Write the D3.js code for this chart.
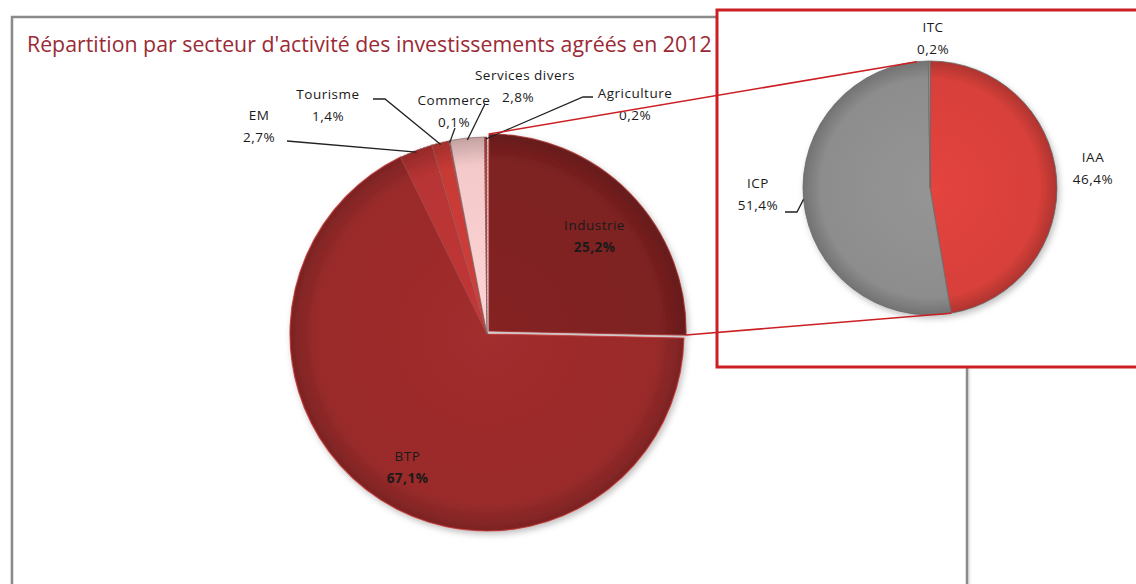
<!DOCTYPE html>
<html>
<head>
<meta charset="utf-8">
<script src="https://cdn.jsdelivr.net/npm/d3@7"></script>
<style>
  body { margin: 0; background: #fff; }
  text { font-family: "Open Sans", sans-serif; }
</style>
</head>
<body>
<div id="chart"></div>
<script>
var svgWidth = 1136;
var svgHeight = 584;

// main pie data (percent)
var sectors = ["Industrie", "BTP", "EM", "Tourisme", "Commerce", "Services divers", "Agriculture"];
var sectorValues = [25.2, 67.1, 2.7, 1.4, 0.1, 2.8, 0.2];
var sectorLabels = ["25,2%", "67,1%", "2,7%", "1,4%", "0,1%", "2,8%", "0,2%"];
var sectorColors = ["#7e2121", "#9a2b2b", "#b83434", "#c73a36", "#c94040", "#f3c9c9", "#c23a34"];

// secondary pie: breakdown of Industrie
var subSectors = ["IAA", "ICP", "ITC"];
var subValues = [46.4, 51.4, 0.2];
var subLabels = ["46,4%", "51,4%", "0,2%"];
var subColors = ["#d8403a", "#8d8d8d", "#a9a9a9"];

var title = "Répartition par secteur d'activité des investissements agréés en 2012";

// layout
var mainC = { x: 487, y: 334 }, mainR = 197;
var subC = { x: 930, y: 188 }, subR = 127;
var explode = { x: 2, y: -3 };
var labelFont = 13.5, labelSpacing = 0.5;

// manual label placement (Excel-style dragged labels), center x and first baseline
var outLabelPos = {
  "EM":             { x: 259, y: 120, line: [[287, 141]] },
  "Tourisme":       { x: 328, y: 99,  line: [[373, 99], [385, 99]] },
  "Commerce":       { x: 454, y: 105, line: [[455, 128]] },
  "Services divers":{ x: 525, y: 80,  line: [[485, 104]] },
  "Agriculture":    { x: 635, y: 98,  line: [[593, 97], [583, 97]] }
};
var subLabelPos = {
  "ITC": { x: 933, y: 32 },
  "IAA": { x: 1093, y: 162 },
  "ICP": { x: 758, y: 188, line: [[785, 212], [797, 212]] }
};

var svg = d3.select("#chart")
  .append("svg")
  .attr("width", svgWidth)
  .attr("height", svgHeight);

var defs = svg.append("defs");

var shadow = defs.append("filter").attr("id", "shadow")
  .attr("x", "-20%").attr("y", "-20%").attr("width", "140%").attr("height", "140%");
shadow.append("feDropShadow")
  .attr("dx", 2).attr("dy", 3).attr("stdDeviation", 3)
  .attr("flood-color", "#000").attr("flood-opacity", 0.25);

var frameShadow = defs.append("filter").attr("id", "fshadow");
frameShadow.append("feDropShadow")
  .attr("dx", 1).attr("dy", 2).attr("stdDeviation", 1.5)
  .attr("flood-color", "#000").attr("flood-opacity", 0.2);

function addGradient(id, color, r) {
  var g = defs.append("radialGradient").attr("id", id)
    .attr("gradientUnits", "userSpaceOnUse")
    .attr("cx", 0).attr("cy", 0).attr("r", r);
  var base = d3.color(color);
  g.append("stop").attr("offset", "0%").attr("stop-color", base.brighter(0.15));
  g.append("stop").attr("offset", "86%").attr("stop-color", base);
  g.append("stop").attr("offset", "100%").attr("stop-color", base.darker(0.6));
}

// chart frame
svg.append("rect")
  .attr("x", 12).attr("y", 17)
  .attr("width", 955).attr("height", 620)
  .attr("fill", "#fff")
  .attr("stroke", "#8a8a8a")
  .attr("stroke-width", 2.5)
  .attr("filter", "url(#fshadow)");

// title
var titleText = svg.append("text")
  .attr("x", 27).attr("y", 52)
  .attr("fill", "#9b2a35")
  .attr("font-size", 20)
  .text(title);
var tw = titleText.node().getComputedTextLength();
titleText.attr("font-size", 20 * 685 / tw);

function twoLineLabel(x, y, name, value, bold, dx2) {
  var t = svg.append("text")
    .attr("text-anchor", "middle")
    .attr("font-size", labelFont)
    .attr("letter-spacing", labelSpacing)
    .attr("fill", "#1a1a1a");
  t.append("tspan").attr("x", x).attr("y", y).text(name);
  t.append("tspan").attr("x", x + (dx2 || 0)).attr("y", y + 22)
    .attr("font-weight", bold ? "bold" : null).text(value);
}

// main pie
var pie = d3.pie().sort(null).value(d => d.value);
var mainData = pie(sectors.map((s, i) => ({ name: s, value: sectorValues[i], label: sectorLabels[i], color: sectorColors[i], idx: i })));

var arc = d3.arc().innerRadius(0).outerRadius(mainR);
var labelArc = d3.arc().innerRadius(mainR * 0.75).outerRadius(mainR * 0.75);

mainData.forEach(d => addGradient("g" + d.data.idx, d.data.color, mainR));

var mainG = svg.append("g")
  .attr("transform", `translate(${mainC.x}, ${mainC.y})`)
  .attr("filter", "url(#shadow)");

mainG.selectAll("path")
  .data(mainData)
  .enter()
  .append("path")
  .attr("d", arc)
  .attr("transform", d => d.index === 0 ? `translate(${explode.x}, ${explode.y})` : null)
  .attr("fill", d => `url(#g${d.data.idx})`)
  .attr("stroke", d => d.value < 5 ? "#7a5a5a" : d3.color(d.data.color).brighter(0.6))
  .attr("stroke-width", d => d.value < 5 ? 0.8 : 1.2)
  .attr("stroke-dasharray", d => d.value < 5 && d.data.name !== "Services divers" ? "2,1.5" : null)
  .attr("stroke-opacity", 0.8);

// inside labels
mainData.filter(d => d.value > 10).forEach(d => {
  var c = labelArc.centroid(d);
  var off = d.index === 0 ? explode : { x: 0, y: 0 };
  twoLineLabel(mainC.x + c[0] + off.x, mainC.y + c[1] + off.y + 2, d.data.name, d.data.label, true);
});

// outside labels with leader lines
mainData.filter(d => d.value < 10).forEach(d => {
  var p = outLabelPos[d.data.name];
  var a = (d.startAngle + d.endAngle) / 2;
  var end = [mainC.x + (mainR - 2) * Math.sin(a), mainC.y - (mainR - 2) * Math.cos(a)];
  svg.append("path")
    .attr("d", d3.line()(p.line.concat([end])))
    .attr("fill", "none")
    .attr("stroke", "#222")
    .attr("stroke-width", 1.3);
  twoLineLabel(p.x, p.y, d.data.name, d.data.label, false, d.data.name === "Services divers" ? -7 : 0);
});

// secondary pie box
svg.append("rect")
  .attr("x", 717).attr("y", 10)
  .attr("width", 440).attr("height", 357)
  .attr("fill", "#fff")
  .attr("stroke", "#cc1f24")
  .attr("stroke-width", 3);

var subData = pie(subSectors.map((s, i) => ({ name: s, value: subValues[i], label: subLabels[i], color: subColors[i], idx: i })));
subData.forEach(d => addGradient("s" + d.data.idx, d.data.color, subR));

var subArc = d3.arc().innerRadius(0).outerRadius(subR);
var subG = svg.append("g")
  .attr("transform", `translate(${subC.x}, ${subC.y})`)
  .attr("filter", "url(#shadow)");

subG.selectAll("path")
  .data(subData)
  .enter()
  .append("path")
  .attr("d", subArc)
  .attr("fill", d => `url(#s${d.data.idx})`)
  .attr("stroke", "#6a6a6a")
  .attr("stroke-width", 0.8);

subData.forEach(d => {
  var p = subLabelPos[d.data.name];
  if (p.line) {
    var a = (d.startAngle + d.endAngle) / 2;
    var end = [subC.x + subR * Math.sin(a), subC.y - subR * Math.cos(a)];
    svg.append("path")
      .attr("d", d3.line()(p.line.concat([end])))
      .attr("fill", "none").attr("stroke", "#222").attr("stroke-width", 1.3);
  }
  twoLineLabel(p.x, p.y, d.data.name, d.data.label, false);
});

// connector lines between Industrie slice and secondary pie
var ind = mainData[0];
var p1 = [mainC.x + explode.x + mainR * Math.sin(ind.startAngle), mainC.y + explode.y - mainR * Math.cos(ind.startAngle)];
var p2 = [mainC.x + explode.x + mainR * Math.sin(ind.endAngle), mainC.y + explode.y - mainR * Math.cos(ind.endAngle)];
var upperA = subData[1].endAngle - 0.09;
var lowerA = subData[0].endAngle;
var q1 = [subC.x + subR * Math.sin(upperA), subC.y - subR * Math.cos(upperA)];
var q2 = [subC.x + subR * Math.sin(lowerA), subC.y - subR * Math.cos(lowerA)];

svg.append("line")
  .attr("x1", p1[0]).attr("y1", p1[1]).attr("x2", q1[0]).attr("y2", q1[1])
  .attr("stroke", "#cc1f24").attr("stroke-width", 1.6);
svg.append("line")
  .attr("x1", p2[0]).attr("y1", p2[1]).attr("x2", q2[0]).attr("y2", q2[1])
  .attr("stroke", "#cc1f24").attr("stroke-width", 1.6);
</script>
</body>
</html>
